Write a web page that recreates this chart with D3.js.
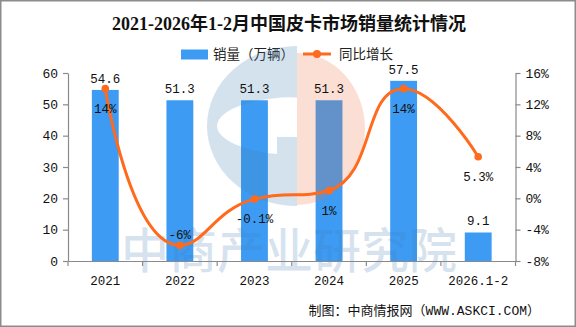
<!DOCTYPE html>
<html>
<head>
<meta charset="utf-8">
<script src="https://cdn.jsdelivr.net/npm/d3@7"></script>
<style>
  body { margin: 0; background: #fff; }
  svg { display: block; }
</style>
</head>
<body>
<div id="chart"></div>
<script>
let svgWidth = 576;
let svgHeight = 327;

// chart values
let years = ["2021", "2022", "2023", "2024", "2025", "2026.1-2"];
let sales = [54.6, 51.3, 51.3, 51.3, 57.5, 9.1];   // 万辆
let growth = [14, -6, -0.1, 1, 14, 5.3];           // 同比增长 %
let leftTicks = [0, 10, 20, 30, 40, 50, 60];
let rightTicks = [-8, -4, 0, 4, 8, 12, 16];

let plot = { left: 68, right: 515.5, top: 73, bottom: 261 };

let barColor = "#3d9bf3";
let lineColor = "#ff6a1c";
let axisColor = "#8a8a8a";
let monoFont = '"Liberation Mono", "Noto Sans CJK SC", monospace';
let cjkFont = '"Noto Sans CJK SC", sans-serif';

let svg = d3.select("#chart")
  .append("svg")
  .attr("width", svgWidth)
  .attr("height", svgHeight);

svg.append("rect")
  .attr("x", 0.75).attr("y", 0.75)
  .attr("width", svgWidth - 1.5).attr("height", svgHeight - 1.5)
  .attr("fill", "#fff")
  .attr("stroke", "#8c8c8c")
  .attr("stroke-width", 1.5);

// scales
let x = d3.scaleBand()
  .domain(years)
  .range([plot.left, plot.right])
  .padding(0);
let yLeft = d3.scaleLinear().domain([0, 60]).range([plot.bottom, plot.top]);
let yRight = d3.scaleLinear().domain([-8, 16]).range([plot.bottom, plot.top]);
let center = c => x(c) + x.bandwidth() / 2;
let barWidth = x.bandwidth() * 0.36;

// title
svg.append("text")
  .attr("x", 289).attr("y", 30)
  .attr("text-anchor", "middle")
  .style("font-family", '"Liberation Serif", "Noto Sans CJK SC", serif')
  .style("font-weight", "bold")
  .style("font-size", "18px")
  .attr("fill", "#111")
  .text("2021-2026年1-2月中国皮卡市场销量统计情况");

// legend
let legend = svg.append("g").style("font-family", cjkFont).style("font-size", "13.5px");
legend.append("rect")
  .attr("x", 181).attr("y", 49.5).attr("width", 27).attr("height", 10)
  .attr("fill", barColor);
legend.append("text").attr("x", 213).attr("y", 59).attr("fill", "#222").text("销量（万辆）");
legend.append("line")
  .attr("x1", 303).attr("x2", 331).attr("y1", 54).attr("y2", 54)
  .attr("stroke", lineColor).attr("stroke-width", 3);
legend.append("circle").attr("cx", 317).attr("cy", 54).attr("r", 4).attr("fill", lineColor);
legend.append("text").attr("x", 339).attr("y", 59).attr("fill", "#222").text("同比增长");

// bars
svg.selectAll(".bar")
  .data(years)
  .enter()
  .append("rect")
  .attr("class", "bar")
  .attr("x", c => center(c) - barWidth / 2)
  .attr("y", (c, i) => yLeft(sales[i]))
  .attr("width", barWidth)
  .attr("height", (c, i) => plot.bottom - yLeft(sales[i]))
  .attr("fill", barColor);

// watermark: logo and company name, laid over the bars
let mark = svg.append("g");
mark.append("path")
  .attr("d", "M297,46 A90,80 0 0 0 297,206 Z M297,97 A80,29 0 0 0 217,126 A80,29 0 0 0 277,154 L277,137 L297,137 Z")
  .attr("fill-rule", "evenodd")
  .attr("fill", "rgba(70,130,180,0.23)");
mark.append("path")
  .attr("d", "M297,53 A68,76 0 0 1 297,205 Z")
  .attr("fill", "rgba(235,110,60,0.22)");
mark.append("text")
  .attr("x", 121).attr("y", 268)
  .style("font-family", cjkFont)
  .style("font-weight", 500)
  .style("font-size", "48px")
  .attr("fill", "rgba(70,130,180,0.22)")
  .text("中商产业研究院");

// axes
let leftAxis = d3.axisLeft(yLeft).tickValues(leftTicks).tickSize(5).tickSizeOuter(0).tickPadding(5);
let rightAxis = d3.axisRight(yRight).tickValues(rightTicks).tickSize(5).tickSizeOuter(0).tickPadding(5)
  .tickFormat(d => d + "%");
let bottomAxis = d3.axisBottom(x).tickSize(0).tickSizeOuter(0);

let gLeft = svg.append("g").attr("transform", `translate(${plot.left},0)`).call(leftAxis);
let gRight = svg.append("g").attr("transform", `translate(${plot.right},0)`).call(rightAxis);
let gBottom = svg.append("g").attr("transform", `translate(0,${plot.bottom})`).call(bottomAxis);

[gLeft, gRight, gBottom].forEach(g => {
  g.select(".domain").attr("stroke", axisColor).attr("stroke-width", 1.2);
  g.selectAll(".tick line").attr("stroke", axisColor).attr("stroke-width", 1.2);
  g.selectAll("text")
    .style("font-family", monoFont)
    .style("font-size", "13px")
    .attr("fill", "#111");
});
gBottom.selectAll("text").attr("y", 23.5).attr("dy", null).style("font-size", "12.5px");

// x ticks sit on the band boundaries
let boundaries = years.map(c => x(c)).concat([x.range()[1]]);
gBottom.selectAll(".edge")
  .data(boundaries)
  .enter()
  .append("line")
  .attr("class", "edge")
  .attr("x1", d => d).attr("x2", d => d)
  .attr("y1", 0).attr("y2", 5)
  .attr("stroke", axisColor)
  .attr("stroke-width", 1.2);

// smoothed growth line: bezier control points weighted by the neighbouring
// segment lengths and clamped so a segment never overshoots its end points
function clamp(v, a, b) {
  return Math.max(Math.min(a, b), Math.min(Math.max(a, b), v));
}
function smoothCurve(context) {
  let pts;
  return {
    areaStart() {},
    areaEnd() {},
    lineStart() { pts = []; },
    point(px, py) { pts.push([+px, +py]); },
    lineEnd() {
      let s = 0.5;
      let cp0x, cp0y;
      pts.forEach((p, i) => {
        let [px, py] = p;
        if (i === 0) {
          context.moveTo(px, py);
          cp0x = px; cp0y = py;
          return;
        }
        let [ppx, ppy] = pts[i - 1];
        let cp1x = px, cp1y = py, nCpx = px, nCpy = py;
        if (i < pts.length - 1) {
          let [nx, ny] = pts[i + 1];
          let lenPrev = Math.hypot(px - ppx, py - ppy);
          let lenNext = Math.hypot(nx - px, ny - py);
          let ratio = lenNext / (lenNext + lenPrev);
          let vx = nx - ppx, vy = ny - ppy;
          nCpx = clamp(px + vx * s * ratio, px, nx);
          nCpy = clamp(py + vy * s * ratio, py, ny);
          vx = nCpx - px; vy = nCpy - py;
          cp1x = clamp(px - vx * lenPrev / lenNext, ppx, px);
          cp1y = clamp(py - vy * lenPrev / lenNext, ppy, py);
          vx = px - cp1x; vy = py - cp1y;
          nCpx = px + vx * lenNext / lenPrev;
          nCpy = py + vy * lenNext / lenPrev;
        }
        context.bezierCurveTo(cp0x, cp0y, cp1x, cp1y, px, py);
        cp0x = nCpx; cp0y = nCpy;
      });
    }
  };
}

let line = d3.line()
  .x((d, i) => center(years[i]))
  .y(d => yRight(d))
  .curve(smoothCurve);

svg.append("path")
  .datum(growth)
  .attr("d", line)
  .attr("fill", "none")
  .attr("stroke", lineColor)
  .attr("stroke-width", 3);

svg.selectAll(".dot")
  .data(growth)
  .enter()
  .append("circle")
  .attr("class", "dot")
  .attr("cx", (d, i) => center(years[i]))
  .attr("cy", d => yRight(d))
  .attr("r", 3.8)
  .attr("fill", lineColor);

// value labels
svg.selectAll(".barLabel")
  .data(sales)
  .enter()
  .append("text")
  .attr("class", "barLabel")
  .attr("x", (d, i) => center(years[i]))
  .attr("y", d => yLeft(d) - 7)
  .attr("text-anchor", "middle")
  .style("font-family", monoFont)
  .style("font-size", "12.5px")
  .attr("fill", "#111")
  .text(d => d.toFixed(1));

svg.selectAll(".pctLabel")
  .data(growth)
  .enter()
  .append("text")
  .attr("class", "pctLabel")
  .attr("x", (d, i) => center(years[i]))
  .attr("y", d => {
    let py = yRight(d);
    return py + 24 > plot.bottom ? py - 6 : py + 24;
  })
  .attr("text-anchor", "middle")
  .style("font-family", monoFont)
  .style("font-size", "12.5px")
  .attr("fill", "#111")
  .text(d => d + "%");

// source note
svg.append("text")
  .attr("x", 540).attr("y", 315)
  .attr("text-anchor", "end")
  .style("font-family", monoFont)
  .style("font-size", "13px")
  .attr("fill", "#111")
  .text("制图：中商情报网（WWW.ASKCI.COM）");
</script>
</body>
</html>
